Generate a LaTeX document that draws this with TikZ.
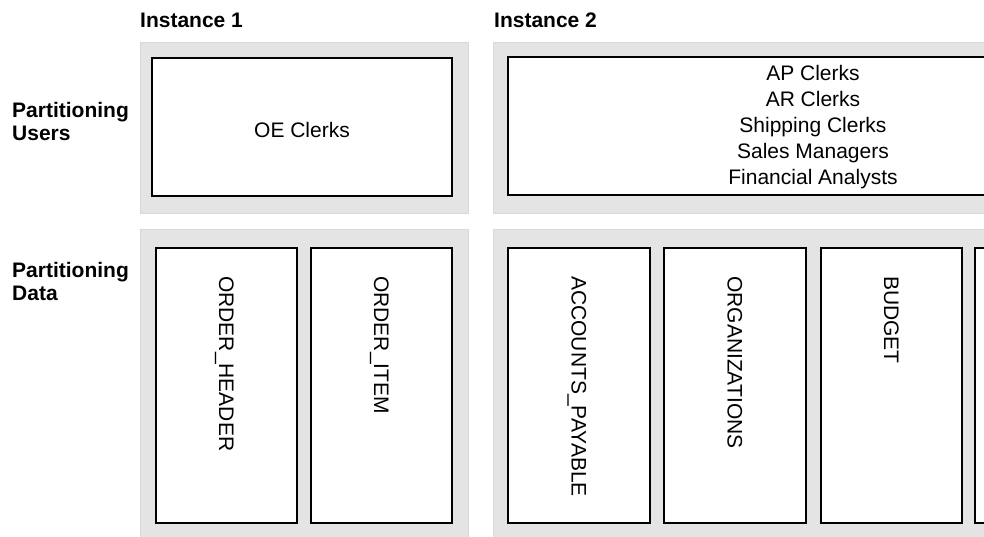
\documentclass[tikz,border=0pt]{standalone}
\usepackage{fontspec}
\setmainfont{Liberation Sans}
\definecolor{panelgray}{RGB}{228,228,228}
\definecolor{panelline}{RGB}{216,216,216}
\begin{document}
\begin{tikzpicture}[x=1pt,y=-1pt,
  panel/.style={fill=panelgray, draw=panelline, line width=1pt, inner sep=0pt, outer sep=0pt, anchor=north west},
  tablebox/.style={fill=white, draw=black, line width=1.6pt, inner sep=0pt, outer sep=0pt, anchor=north west},
  colbox/.style={tablebox, minimum width=141pt, minimum height=275pt},
  head/.style={font=\fontsize{21}{24}\selectfont\bfseries, inner sep=0pt, anchor=base west},
  txt/.style={font=\fontsize{21}{26}\selectfont, align=center, inner sep=0pt},
  vtxt/.style={font=\fontsize{21}{26}\selectfont, inner sep=0pt, rotate=-90, anchor=west, text height=15pt, text depth=0pt}]
\useasboundingbox (0,0) rectangle (984,536);
\clip (0,0) rectangle (984,536);

% gray panels
\node[panel, minimum width=328pt, minimum height=171pt] (pu1) at (140,42) {};
\node[panel, minimum width=640pt, minimum height=171pt] (pu2) at (493,42) {};
\node[panel, minimum width=328pt, minimum height=320pt] (pd1) at (140,229) {};
\node[panel, minimum width=640pt, minimum height=320pt] (pd2) at (493,229) {};

% column and row headings
\node[head] (inst1) at (140,27) {Instance 1};
\node[head] (inst2) at (494,27) {Instance 2};
\node[head] (pu) at (12,117) {Partitioning};
\node[head] (us) at (12,140) {Users};
\node[head] (pd) at (12,277) {Partitioning};
\node[head] (da) at (12,300) {Data};

% user groups
\node[tablebox, minimum width=300pt, minimum height=138pt] (u1) at (152,58) {};
\node[tablebox, minimum width=610pt, minimum height=138pt] (u2) at (508,57) {};
\node[txt] (u1t) at (u1.center) [yshift=-3pt] {OE Clerks};
\node[txt] (u2t) at (813,127.5) {AP Clerks\\AR Clerks\\Shipping Clerks\\Sales Managers\\Financial Analysts};

% data partitions
\node[colbox] (d1) at (156,248) {};
\node[colbox] (d2) at (311,248) {};
\node[colbox, minimum width=142pt] (d3) at (508,248) {};
\node[colbox, minimum width=142pt] (d4) at (664,248) {};
\node[colbox] (d5) at (821,248) {};
\node[colbox] (d6) at (975,248) {};

\node[vtxt] (d1t) at ([yshift=-28pt]d1.north) {ORDER\_HEADER};
\node[vtxt] (d2t) at ([yshift=-28pt]d2.north) {ORDER\_ITEM};
\node[vtxt] (d3t) at ([yshift=-28pt]d3.north) {ACCOUNTS\_PAYABLE};
\node[vtxt] (d4t) at ([yshift=-28pt]d4.north) {ORGANIZATIONS};
\node[vtxt] (d5t) at ([yshift=-28pt]d5.north) {BUDGET};
\end{tikzpicture}
\end{document}
